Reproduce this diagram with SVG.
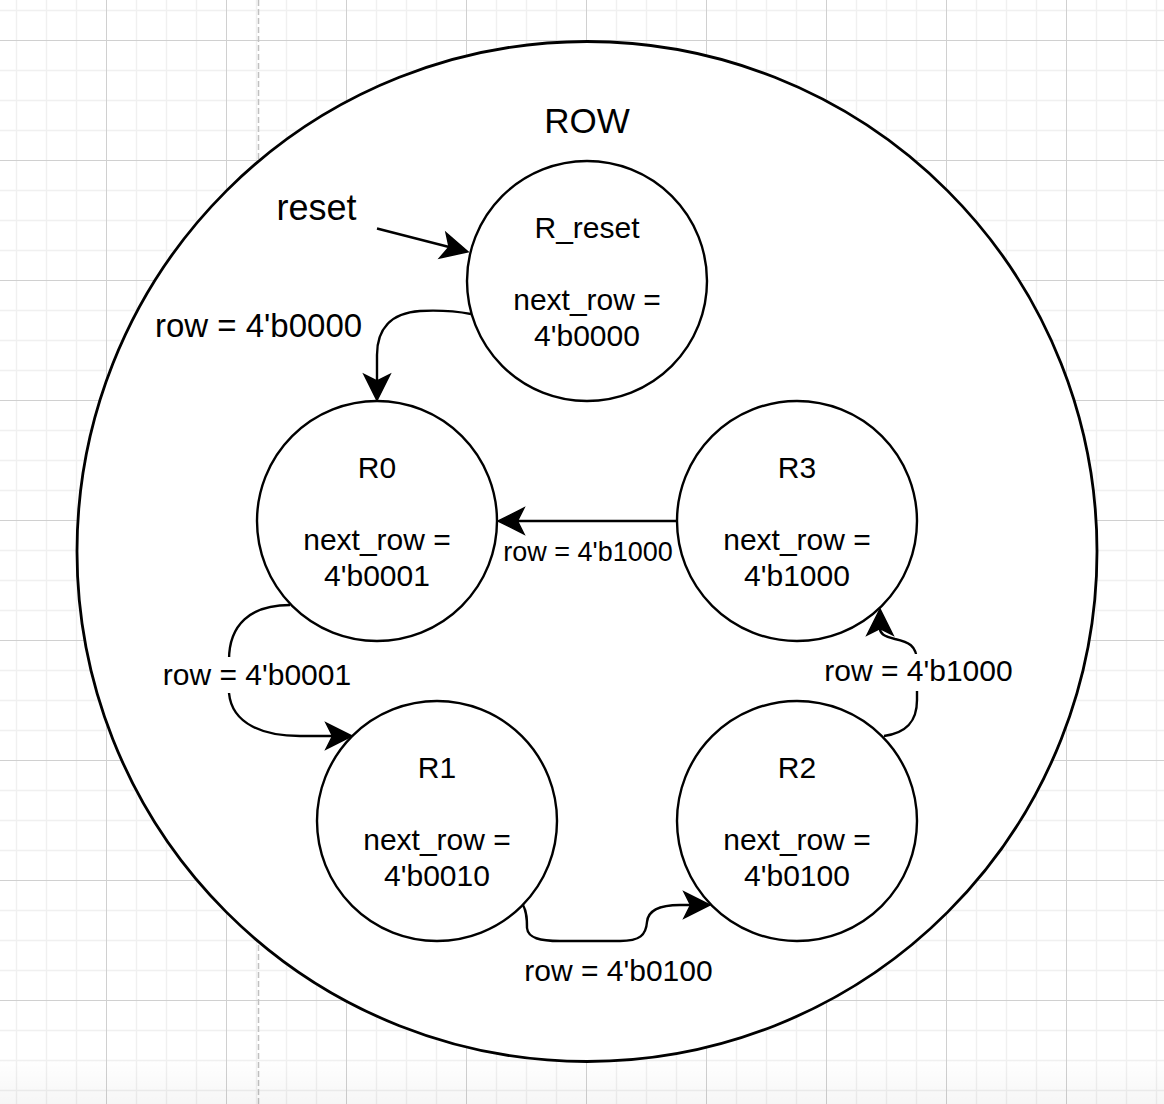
<svg xmlns="http://www.w3.org/2000/svg" width="1164" height="1104" viewBox="0 0 1164 1104">
  <defs>
    <pattern id="grid" patternUnits="userSpaceOnUse" x="106" y="40" width="120" height="120">
      <g stroke="#f0f0f0" stroke-width="1.5">
        <line x1="30.5" y1="0" x2="30.5" y2="120"/>
        <line x1="60.5" y1="0" x2="60.5" y2="120"/>
        <line x1="90.5" y1="0" x2="90.5" y2="120"/>
        <line x1="0" y1="30.5" x2="120" y2="30.5"/>
        <line x1="0" y1="60.5" x2="120" y2="60.5"/>
        <line x1="0" y1="90.5" x2="120" y2="90.5"/>
      </g>
      <g stroke="#d0d0d0" stroke-width="1">
        <line x1="0.5" y1="0" x2="0.5" y2="120"/>
        <line x1="0" y1="0.5" x2="120" y2="0.5"/>
      </g>
    </pattern>
    <linearGradient id="fade" x1="0" y1="0" x2="0" y2="1">
      <stop offset="0" stop-color="#000" stop-opacity="0"/>
      <stop offset="1" stop-color="#000" stop-opacity="0.035"/>
    </linearGradient>
    <marker id="arrow" markerUnits="userSpaceOnUse" viewBox="-8 -15 30 30" markerWidth="30" markerHeight="30" refX="0" refY="0" orient="auto" overflow="visible">
      <path d="M19.5,0 L-6.5,-13 L0,0 L-6.5,13 Z" fill="#000" stroke="#000" stroke-width="1.5" stroke-linejoin="miter"/>
    </marker>
    <style>
      .state { fill: #ffffff; stroke: #000000; stroke-width: 2.4; }
      .txt { font-family: "Liberation Sans", Arial, Helvetica, sans-serif; fill: #000000; text-anchor: middle; }
      .node { font-size: 30px; }
      .edge { fill: none; stroke: #000000; stroke-width: 2.4; marker-end: url(#arrow); }
      .lblbg { fill: #ffffff; stroke: none; }
    </style>
  </defs>

  <g id="background">
    <rect x="0" y="0" width="1164" height="1104" fill="#ffffff"/>
    <rect x="0" y="0" width="1164" height="1104" fill="url(#grid)"/>
    <line x1="258.5" y1="0" x2="258.5" y2="1104" stroke="#c0c0c0" stroke-width="1.5" stroke-dasharray="6 3"/>
    <rect x="0" y="1058" width="1164" height="46" fill="url(#fade)"/>
  </g>

  <g id="ROW">
    <circle cx="587" cy="551.5" r="510" fill="#ffffff" stroke="#000000" stroke-width="2.8"/>
    <text class="txt" x="587" y="133" font-size="35">ROW</text>
  </g>

  <g id="R_reset">
    <circle class="state" cx="587" cy="281" r="120"/>
    <text class="txt node" x="587" y="237.5">R_reset</text>
    <text class="txt node" x="587" y="309.5">next_row =</text>
    <text class="txt node" x="587" y="345.5">4'b0000</text>
  </g>

  <g id="R0">
    <circle class="state" cx="377" cy="521" r="120"/>
    <text class="txt node" x="377" y="477.5">R0</text>
    <text class="txt node" x="377" y="549.5">next_row =</text>
    <text class="txt node" x="377" y="585.5">4'b0001</text>
  </g>

  <g id="R3">
    <circle class="state" cx="797" cy="521" r="120"/>
    <text class="txt node" x="797" y="477.5">R3</text>
    <text class="txt node" x="797" y="549.5">next_row =</text>
    <text class="txt node" x="797" y="585.5">4'b1000</text>
  </g>

  <g id="R1">
    <circle class="state" cx="437" cy="821" r="120"/>
    <text class="txt node" x="437" y="777.5">R1</text>
    <text class="txt node" x="437" y="849.5">next_row =</text>
    <text class="txt node" x="437" y="885.5">4'b0010</text>
  </g>

  <g id="R2">
    <circle class="state" cx="797" cy="821" r="120"/>
    <text class="txt node" x="797" y="777.5">R2</text>
    <text class="txt node" x="797" y="849.5">next_row =</text>
    <text class="txt node" x="797" y="885.5">4'b0100</text>
  </g>

  <g id="connectors">
    <!-- reset -> R_reset -->
    <path class="edge" d="M 377 228.5 L 449.1 247"/>
    <text class="txt" x="316.5" y="220" font-size="36">reset</text>

    <!-- R_reset -> R0 -->
    <path class="edge" d="M 471 314 C 455 311 440 310 420 311 C 390 313 377 330 377 355 L 377 381"/>
    <text class="txt" x="258.5" y="337" font-size="33">row = 4'b0000</text>

    <!-- R0 -> R1 -->
    <path class="edge" d="M 290 605 C 250 605 229 625 229 660 L 229 693 C 232 725 265 736 300 736 L 332.5 736"/>
    <rect class="lblbg" x="163" y="657" width="188" height="36"/>
    <text class="txt" x="257" y="684.5" font-size="30">row = 4'b0001</text>

    <!-- R3 -> R0 -->
    <path class="edge" d="M 677 521 L 517.5 521"/>
    <text class="txt" x="588" y="561" font-size="27">row = 4'b1000</text>

    <!-- R1 -> R2 -->
    <path class="edge" d="M 523 905 C 527 912 527 920 527 928 C 528 938 540 941 560 941 L 620 941 C 640 941 646 935 647 922 C 648 910 660 905 680 905 L 690.5 905"/>
    <text class="txt" x="618.5" y="981" font-size="30">row = 4'b0100</text>

    <!-- R2 -> R3 -->
    <path class="edge" d="M 884 736 C 906 733 917 722 917 700 L 917 662 C 917 645 908 642 895 639 C 884 636 880 634 880 628.5"/>
    <rect class="lblbg" x="824" y="654" width="189" height="37"/>
    <text class="txt" x="918.5" y="681" font-size="30">row = 4'b1000</text>
  </g>
</svg>
